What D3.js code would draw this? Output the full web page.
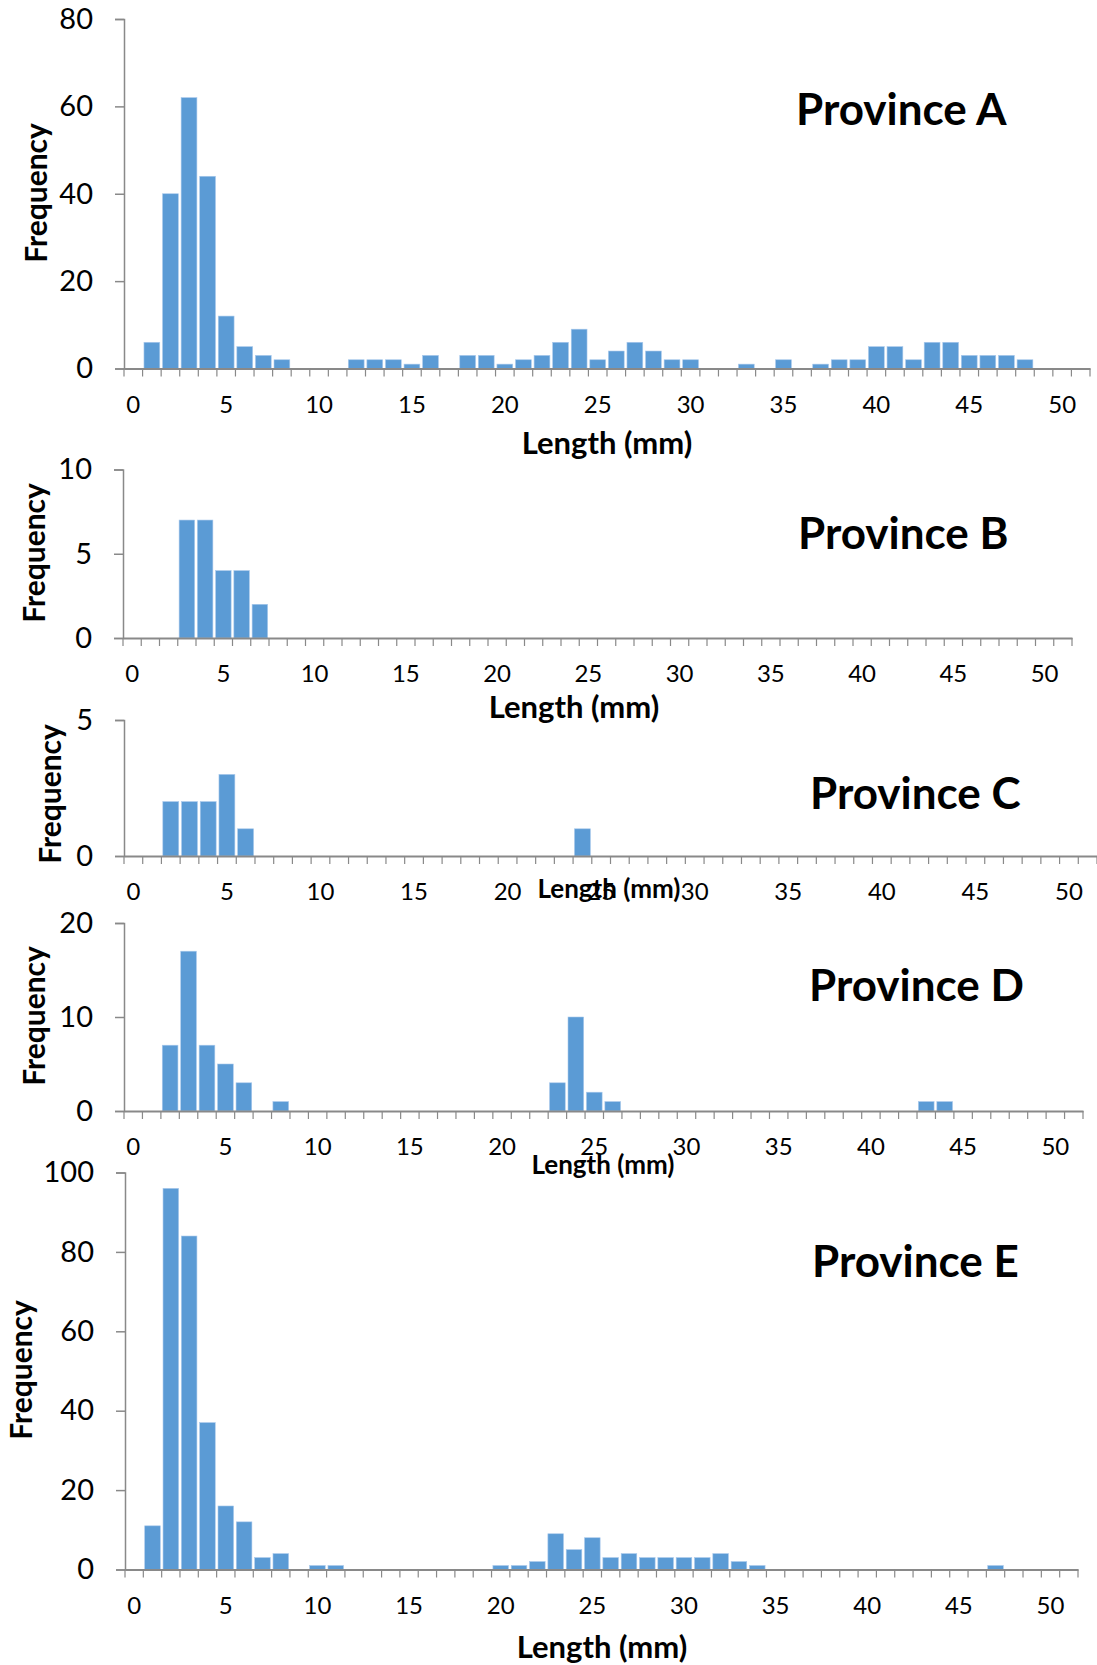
<!DOCTYPE html>
<html>
<head>
<meta charset="utf-8">
<script src="https://cdn.jsdelivr.net/npm/d3@7"></script>
<style>
body { margin: 0; background: #fff; }
svg { display: block; font-family: Lato, "Open Sans", sans-serif; }
</style>
</head>
<body>
<svg width="1097" height="1665"></svg>
<script>
// length bins (mm), one bar slot each
var bins = [0,1,2,3,4,5,6,7,8,9,10,11,12,13,14,15,16,17,18,19,20,21,22,23,24,25,
            26,27,28,29,30,31,32,33,34,35,36,37,38,39,40,41,42,43,44,45,46,47,48,49,50,51];
var binLabels = [0,5,10,15,20,25,30,35,40,45,50];

var provinceA = [0,6,40,62,44,12,5,3,2,0, 0,0,2,2,2,1,3,0,3,3, 1,2,3,6,9,2,4,6,4,2,
                 2,0,0,1,0,2,0,1,2,2, 5,5,2,6,6,3,3,3,2,0, 0,0];
var provinceB = [0,0,0,7,7,4,4,2,0,0, 0,0,0,0,0,0,0,0,0,0, 0,0,0,0,0,0,0,0,0,0,
                 0,0,0,0,0,0,0,0,0,0, 0,0,0,0,0,0,0,0,0,0, 0,0];
var provinceC = [0,0,2,2,2,3,1,0,0,0, 0,0,0,0,0,0,0,0,0,0, 0,0,0,0,1,0,0,0,0,0,
                 0,0,0,0,0,0,0,0,0,0, 0,0,0,0,0,0,0,0,0,0, 0,0];
var provinceD = [0,0,7,17,7,5,3,0,1,0, 0,0,0,0,0,0,0,0,0,0, 0,0,0,3,10,2,1,0,0,0,
                 0,0,0,0,0,0,0,0,0,0, 0,0,0,1,1,0,0,0,0,0, 0,0];
var provinceE = [0,11,96,84,37,16,12,3,4,0, 1,1,0,0,0,0,0,0,0,0, 1,1,2,9,5,8,3,4,3,3,
                 3,3,4,2,1,0,0,0,0,0, 0,0,0,0,0,0,0,1,0,0, 0,0];

var yTicksA = [0,20,40,60,80];
var yTicksB = [0,5,10];
var yTicksC = [0,5];
var yTicksD = [0,10,20];
var yTicksE = [0,20,40,60,80,100];

var panels = [
  {title: "Province A", values: provinceA, ticks: yTicksA,
   left: 124, right: 1090, top: 19, bottom: 368.5,
   xTitle: [607, 454, 31], yTitle: [36, 193], tPos: [796, 125]},
  {title: "Province B", values: provinceB, ticks: yTicksB,
   left: 123, right: 1072, top: 469.5, bottom: 638,
   xTitle: [574, 718, 31], yTitle: [34, 553], tPos: [798, 549]},
  {title: "Province C", values: provinceC, ticks: yTicksC,
   left: 124, right: 1097, top: 720, bottom: 856,
   xTitle: [609, 898, 26], yTitle: [50, 794], tPos: [810, 809]},
  {title: "Province D", values: provinceD, ticks: yTicksD,
   left: 124, right: 1083, top: 923, bottom: 1111,
   xTitle: [603, 1174, 26], yTitle: [34, 1016], tPos: [809, 1001]},
  {title: "Province E", values: provinceE, ticks: yTicksE,
   left: 125, right: 1078, top: 1172.5, bottom: 1569.5,
   xTitle: [602, 1658, 31], yTitle: [21, 1370], tPos: [812, 1277]}
];

var svg = d3.select("svg");
var axisColor = "#898989";

panels.forEach(function(p) {
  var g = svg.append("g");

  var x = d3.scaleBand()
      .domain(bins)
      .range([p.left, p.right])
      .paddingInner(0.15)
      .paddingOuter(0.075);

  var y = d3.scaleLinear()
      .domain([0, d3.max(p.ticks)])
      .range([p.bottom, p.top]);

  // bars
  g.selectAll("rect")
    .data(bins.filter(function(b) { return p.values[b] > 0; }))
    .enter().append("rect")
      .attr("x", function(b) { return x(b); })
      .attr("width", x.bandwidth())
      .attr("y", function(b) { return y(p.values[b]); })
      .attr("height", function(b) { return y(0) - y(p.values[b]); })
      .attr("fill", "#5b9bd5")
      .attr("stroke", "#a9c9ec")
      .attr("stroke-width", 0.6);

  // y axis
  var ya = g.append("g")
      .attr("transform", "translate(" + p.left + ",0)")
      .call(d3.axisLeft(y).tickValues(p.ticks).tickFormat(d3.format("d"))
              .tickSize(9).tickPadding(22));
  ya.selectAll("line, path").attr("stroke", axisColor).attr("stroke-width", 1.5);
  ya.selectAll("text").attr("font-size", 29).attr("fill", "#000")
      .attr("font-family", "Lato");

  // x axis: labels every 5 bins, ticks at every slot boundary
  var xa = g.append("g")
      .attr("transform", "translate(0," + p.bottom + ")")
      .call(d3.axisBottom(x).tickValues(binLabels).tickSize(0).tickPadding(27));
  xa.select("path").attr("stroke", axisColor).attr("stroke-width", 2);
  xa.selectAll("text").attr("font-size", 24).attr("fill", "#000")
      .attr("font-family", "Lato");

  var off = x.step() * x.paddingOuter();
  g.append("g").selectAll("line")
    .data(bins)
    .enter().append("line")
      .attr("x1", function(b) { return x(b) - off; })
      .attr("x2", function(b) { return x(b) - off; })
      .attr("y1", p.bottom)
      .attr("y2", p.bottom + 8)
      .attr("stroke", axisColor)
      .attr("stroke-width", 1.2);
  g.append("line")
      .attr("x1", p.right).attr("x2", p.right)
      .attr("y1", p.bottom).attr("y2", p.bottom + 8)
      .attr("stroke", axisColor).attr("stroke-width", 1.2);

  // axis titles
  g.append("text")
      .attr("x", p.xTitle[0])
      .attr("y", p.xTitle[1])
      .attr("text-anchor", "middle")
      .attr("font-weight", "bold")
      .attr("font-size", p.xTitle[2])
      .text("Length (mm)");

  g.append("text")
      .attr("transform", "translate(" + p.yTitle[0] + "," + p.yTitle[1] + ") rotate(-90)")
      .attr("text-anchor", "middle")
      .attr("dy", "0.35em")
      .attr("font-weight", "bold")
      .attr("font-size", 30)
      .text("Frequency");

  // panel title
  g.append("text")
      .attr("x", p.tPos[0])
      .attr("y", p.tPos[1])
      .attr("font-weight", "bold")
      .attr("font-size", 44)
      .text(p.title);
});
</script>
</body>
</html>
